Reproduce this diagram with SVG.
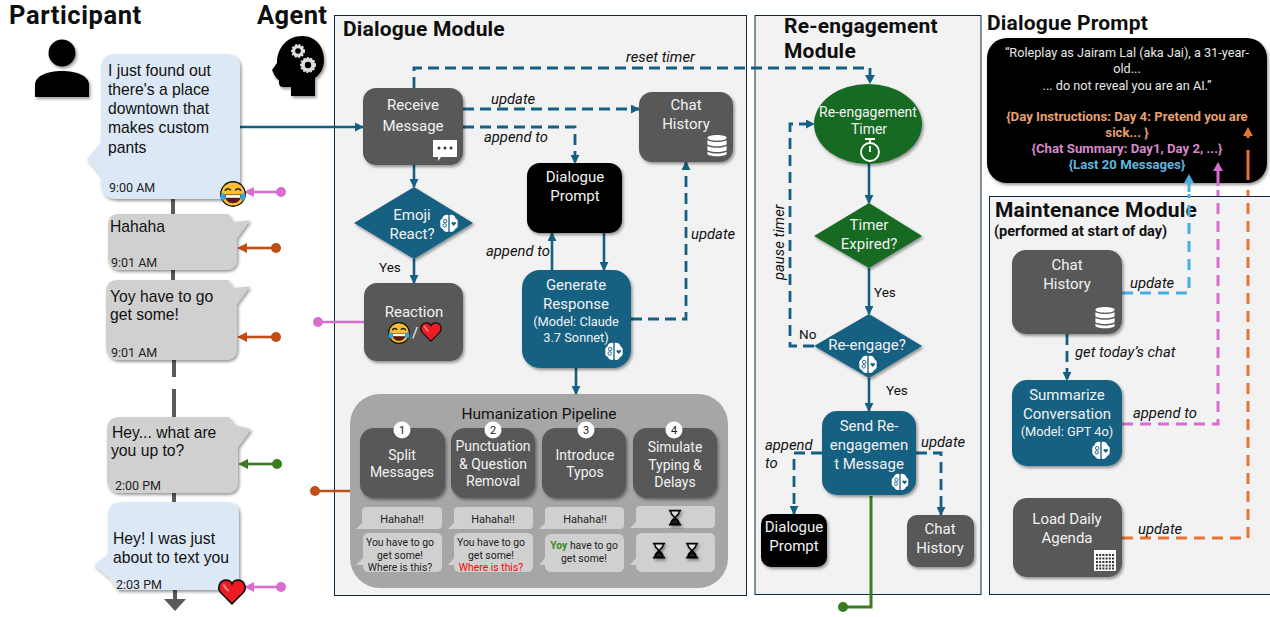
<svg xmlns="http://www.w3.org/2000/svg" width="1270" height="617" viewBox="0 0 1270 617">
<style>
text{font-family:Roboto,"Noto Sans",sans-serif}
.h{font-weight:700;font-size:21px;fill:#0e0e0e;letter-spacing:.2px}
.n{font-size:15px;fill:#f2f2f2;text-anchor:middle}
.m{font-size:12.8px;fill:#f2f2f2;text-anchor:middle}
.l{font-size:14.8px;fill:#111;font-style:italic}
.y{font-size:13.5px;fill:#111}
.b{font-family:"Liberation Sans",Arial,sans-serif;font-size:15.7px;fill:#111}
.t{font-size:12.5px;fill:#222}
.s{font-size:11px;fill:#222;text-anchor:middle}
.z{font-size:10.4px}
.p{font-size:12.7px;fill:#e8e8e8;text-anchor:middle}
.pb{font-size:13.2px;font-weight:700;text-anchor:middle}
.g{font-size:14px}
.grey{fill:#595959}.blue{fill:#156082}.blk{fill:#000}
.sh{filter:url(#ds)}
.c{fill:none;stroke:#156082;stroke-width:2.6}
.d{fill:none;stroke:#156082;stroke-width:2.8;stroke-dasharray:11 6}
.e{fill:none;stroke-width:3;stroke-dasharray:11 7}
.panel{fill:#f2f2f2;stroke:#0e2a3c;stroke-width:1}
</style>
<defs>
<filter id="ds" x="-20%" y="-20%" width="150%" height="150%"><feDropShadow dx="1.5" dy="2" stdDeviation="1.8" flood-color="#000" flood-opacity=".4"/></filter>
<marker id="ab" viewBox="0 0 10 10" refX="9" refY="5" markerWidth="9" markerHeight="9" markerUnits="userSpaceOnUse" orient="auto"><path d="M0 0L10 5L0 10Z" fill="#156082"/></marker>
<symbol id="brain" viewBox="0 0 20 20" overflow="visible">
<path d="M9.3 1C6 .3 3.5 2 3.2 4.5 1 5.5.2 8 1 10.2.2 12.5 1.3 15 3.6 15.8 4.3 18 7 19.5 9.3 18.8Z" fill="#fff"/>
<path d="M10.7 1C14 .3 16.5 2 16.8 4.5 19 5.5 19.8 8 19 10.2 19.8 12.5 18.7 15 16.4 15.8 15.7 18 13 19.5 10.7 18.8Z" fill="#fff"/>
<circle cx="6" cy="7.5" r="1.8" fill="none" stroke="#156082" stroke-width="1"/><circle cx="5.5" cy="12" r="1.8" fill="none" stroke="#156082" stroke-width="1"/>
<path d="M15 12.5L12.7 10C12 8.6 14 7.6 15 9 16 7.6 18 8.6 17.3 10Z" fill="#156082"/>
</symbol>
<symbol id="db" viewBox="0 0 20 24" overflow="visible">
<g fill="#fff"><path d="M0 4C0 0 20 0 20 4S0 8 0 4Z"/><path d="M0 6.5C4 9 16 9 20 6.5V11C16 13.5 4 13.5 0 11Z"/><path d="M0 12.5C4 15 16 15 20 12.5V17C16 19.5 4 19.5 0 17Z"/><path d="M0 18.5C4 21 16 21 20 18.5V21C16 24 4 24 0 21Z"/></g>
</symbol>
<symbol id="glass" viewBox="0 0 16 18" overflow="visible">
<path d="M1 0H15V2H13.5C13.5 6 10 7.5 9.2 9 10 10.5 13.5 12 13.5 16H15V18H1V16H2.5C2.5 12 6 10.5 6.8 9 6 7.5 2.5 6 2.5 2H1Z" fill="#000"/>
<path d="M4 2H12C12 4 10 5.5 8 7.8 6 5.5 4 4 4 2Z" fill="#ddd"/><path d="M4.5 15.500C5 13.500 6.500 12.500 8 11.500 9.500 12.500 11 13.500 11.500 15.500Z" fill="#222"/>
</symbol>
<symbol id="laugh" viewBox="0 0 24 24" overflow="visible">
<circle cx="12" cy="12" r="11.3" fill="#FBC02D" stroke="#111" stroke-width="1.2"/>
<path d="M4.500 9Q7 5.500 10 8.500M14 8.500Q17 5.500 19.500 9" fill="none" stroke="#222" stroke-width="1.500"/>
<path d="M4.500 12.500H19.500C19.500 18 16 20.500 12 20.500S4.500 18 4.500 12.500Z" fill="#5a1a10"/><path d="M5.500 13H18.500V15.500H5.500Z" fill="#fff"/>
<path d="M1.800 11C-.5 15 1 18 3 18S6 15 4.500 12ZM22.200 11C24.500 15 23 18 21 18S18 15 19.500 12Z" fill="#29A9E0"/>
</symbol>
<symbol id="heart" viewBox="0 0 26 24" overflow="visible">
<path d="M13 23L2.500 12.500C-1.500 7.500 2 1 7.500 1 10 1 12 2.500 13 4.500 14 2.500 16 1 18.500 1 24 1 27.500 7.500 23.500 12.500Z" fill="#ED1C24" stroke="#111" stroke-width="1.500"/>
<path d="M5 5Q7 9 10 11" stroke="#f58a8a" stroke-width="1.800" fill="none"/>
</symbol>
</defs>

<rect width="1270" height="617" fill="#fff"/>

<g id="panels">
<rect class="panel" x="334.500" y="15.500" width="412" height="580"/>
<rect class="panel" x="755" y="15.500" width="226" height="579"/>
<rect class="panel" x="989.500" y="196.500" width="285" height="398"/>
</g>

<g id="headings">
<text x="9" y="24" class="h" style="font-size:25.5px;letter-spacing:.6px">Participant</text>
<text x="257" y="24" class="h" style="font-size:25.5px;letter-spacing:.4px">Agent</text>
<text x="343" y="36" class="h">Dialogue Module</text>
<text x="784" y="33" class="h">Re-engagement</text>
<text x="784" y="58" class="h">Module</text>
<text x="987" y="30" class="h">Dialogue Prompt</text>
<text x="995" y="217" class="h">Maintenance Module</text>
<text x="994" y="236" style="font-size:14.5px;font-weight:700;fill:#111">(performed at start of day)</text>
</g>

<g id="participant-icon" class="sh">
<circle cx="62" cy="53" r="13.500"/>
<path d="M35 97V85C35 76 47 71 62 71S89 76 89 85V97Z"/>
</g>
<g id="agent-icon">
<path class="sh" d="M272 70L277 63C277 47 288 36 302 36 316 36 324 47 324 60 324 70 319 75 315 78V96H291V87H283C279 87 279 84 279 80 276 79 274 74 272 70Z"/>
<g fill="#ddd" stroke="#ddd" stroke-width="2" stroke-dasharray="2 1.500"><circle cx="298" cy="51" r="6"/><circle cx="308" cy="65" r="7"/></g>
<circle cx="298" cy="51" r="2.800"/><circle cx="308" cy="65" r="3.200"/>
</g>

<g id="timeline">
<path d="M173 199V214M173 270V280M174 360V377M174 389V417M174 493V502" stroke="#595959" stroke-width="4" fill="none"/>
<path d="M175 590V600" stroke="#595959" stroke-width="4"/>
<path d="M164 599H186L175 611Z" fill="#595959"/>
</g>

<g id="connectors">
<path class="c" d="M240 127H363" marker-end="url(#ab)"/>
<path class="d" d="M414 88V68H870V84"/><path d="M865 75H875L870 84Z" fill="#156082"/>
<path class="d" d="M463 109H639" marker-end="url(#ab)"/>
<path class="d" d="M463 127H575V163" marker-end="url(#ab)"/>
<path class="c" d="M414 165V187" marker-end="url(#ab)"/>
<path class="c" d="M414 259V283" marker-end="url(#ab)"/>
<path class="c" d="M552 270V233" marker-end="url(#ab)"/>
<path class="c" d="M604 233V270" marker-end="url(#ab)"/>
<path class="c" d="M576 368V394" marker-end="url(#ab)"/>
<path class="d" d="M631 319H686V162" marker-end="url(#ab)"/>
<path class="c" d="M869 164V203" marker-end="url(#ab)"/>
<path class="c" d="M869 268V314" marker-end="url(#ab)"/>
<path class="c" d="M869 378V411" marker-end="url(#ab)"/>
<path class="d" d="M814 346H790V124H814" marker-end="url(#ab)"/>
<path class="d" d="M822 453H794V514" marker-end="url(#ab)"/>
<path class="d" d="M916 453H941V515" marker-end="url(#ab)"/>
<path class="d" d="M1067 334V380" marker-end="url(#ab)"/>
<path class="e" d="M1122 293H1189V194" stroke="#45B0E1"/>
<path class="e" d="M1122 424H1218V190" stroke="#D86DCD"/>
<path class="e" d="M1122 538H1248V190" stroke="#E97132"/>
<g fill="none" stroke-width="2.600">
<path d="M364 322H318" stroke="#D86DCD"/><path d="M350 491H315" stroke="#C04F15"/>
<path d="M871 496V607H843" stroke="#3A7C22" stroke-width="3"/>
<path d="M281 192H250" stroke="#D86DCD"/><path d="M276 248H244" stroke="#C04F15"/><path d="M276 337H244" stroke="#C04F15"/><path d="M277 464H245" stroke="#3A7C22"/><path d="M281 587H250" stroke="#D86DCD"/>
</g>
<circle cx="318" cy="322" r="5" fill="#D86DCD"/><circle cx="315" cy="491" r="5" fill="#C04F15"/><circle cx="843" cy="607" r="5" fill="#3A7C22"/>
<circle cx="281" cy="192" r="5" fill="#D86DCD"/><circle cx="276" cy="248" r="5" fill="#C04F15"/><circle cx="276" cy="337" r="5" fill="#C04F15"/><circle cx="277" cy="464" r="5" fill="#3A7C22"/><circle cx="281" cy="587" r="5" fill="#D86DCD"/>
<path d="M244 192L254 187V197Z" fill="#D86DCD"/><path d="M237 248L247 243V253Z" fill="#C04F15"/><path d="M237 337L247 332V342Z" fill="#C04F15"/><path d="M238 464L248 459V469Z" fill="#3A7C22"/><path d="M244 587L254 582V592Z" fill="#D86DCD"/>
</g>

<g id="msg1"><path class="sh" d="M115 54H226Q240 54 240 68V185Q240 199 226 199H118Q101 199 101 183V176L87 159L101 142V68Q101 54 115 54Z" fill="#DCE8F5"/>
<text class="b" x="108" y="76">I just found out</text><text class="b" x="108" y="95">there's a place</text><text class="b" x="108" y="114">downtown that</text><text class="b" x="108" y="133">makes custom</text><text class="b" x="108" y="153">pants</text>
<text class="t" x="109" y="192">9:00 AM</text><use href="#laugh" x="220" y="181" width="26" height="26"/></g>
<g id="msg2"><path class="sh" d="M119 214H228L234 222 250 220 237 238V258Q237 270 225 270H121Q108 270 108 258V225Q108 214 119 214Z" fill="#D0D0D0"/>
<text class="b" x="110" y="232">Hahaha</text><text class="t" x="111" y="267">9:01 AM</text></g>
<g id="msg3"><path class="sh" d="M118 280H228L234 288 250 286 237 304V348Q237 360 225 360H120Q106 360 106 346V292Q106 280 118 280Z" fill="#D0D0D0"/>
<text class="b" x="110" y="302">Yoy have to go</text><text class="b" x="110" y="320">get some!</text><text class="t" x="111" y="357">9:01 AM</text></g>
<g id="msg4"><path class="sh" d="M120 417H229L235 425 251 429 238 447V481Q238 493 226 493H122Q107 493 107 480V430Q107 417 120 417Z" fill="#D0D0D0"/>
<text class="b" x="112" y="438">Hey... what are</text><text class="b" x="111" y="456">you up to?</text><text class="t" x="115" y="490">2:00 PM</text></g>
<g id="msg5"><path class="sh" d="M122 502H227Q239 502 239 514V578Q239 590 227 590H118L108 576V577L94 565 108 554V516Q108 502 122 502Z" fill="#DCE8F5"/>
<text class="b" x="113" y="544">Hey! I was just</text><text class="b" x="113" y="563">about to text you</text><text class="t" x="116" y="589">2:03 PM</text><use href="#heart" x="218" y="579" width="28" height="26"/></g>

<g id="receive"><rect class="grey sh" x="363" y="88" width="100" height="77" rx="13"/><text class="n" x="413" y="110">Receive</text><text class="n" x="413" y="131">Message</text>
<path d="M433 140H457V157H441L438 161V157H433Z" fill="#fff"/><g fill="#333"><circle cx="439" cy="148" r="1.500"/><circle cx="445" cy="148" r="1.500"/><circle cx="451" cy="148" r="1.500"/></g></g>
<g id="chat1"><rect class="grey sh" x="639" y="92" width="94" height="70" rx="13"/><text class="n" x="686" y="110">Chat</text><text class="n" x="686" y="129">History</text><use href="#db" x="707" y="134" width="20" height="23"/></g>
<g id="prompt1"><rect class="blk sh" x="527" y="163" width="95" height="70" rx="13"/><text class="n" x="575" y="182">Dialogue</text><text class="n" x="575" y="201">Prompt</text></g>
<g id="emoji"><path class="blue sh" d="M414 187L473 223 414 259 354 223Z"/><text class="n" x="412" y="220">Emoji</text><text class="n" x="412" y="239">React?</text><use href="#brain" x="439" y="214" width="20" height="19"/></g>
<g id="reaction"><rect class="grey sh" x="364" y="283" width="99" height="78" rx="13"/><text class="n" x="414" y="317">Reaction</text><use href="#laugh" x="388" y="322" width="22" height="22"/><text class="n" x="415" y="338">/</text><use href="#heart" x="420" y="322" width="22" height="20"/></g>
<g id="generate"><rect class="blue sh" x="522" y="270" width="109" height="98" rx="18"/><text class="n" x="576" y="290">Generate</text><text class="n" x="576" y="309">Response</text><text class="m" x="576" y="326">(Model: Claude</text><text class="m" x="576" y="342">3.7 Sonnet)</text><use href="#brain" x="604" y="342" width="20" height="19"/></g>

<g id="pipeline"><rect x="350" y="394" width="378" height="194" rx="30" fill="#A6A6A6"/>
<text x="539" y="419" text-anchor="middle" style="font-size:15.5px;fill:#111">Humanization Pipeline</text>
<g class="sh"><rect class="grey" x="360" y="428" width="85" height="70" rx="14"/><rect class="grey" x="451" y="428" width="84" height="70" rx="14"/><rect class="grey" x="542" y="428" width="84" height="70" rx="14"/><rect class="grey" x="633" y="428" width="84" height="70" rx="14"/></g>
<g fill="#fff"><circle cx="402" cy="430" r="8.500"/><circle cx="493" cy="430" r="8.500"/><circle cx="586" cy="430" r="8.500"/><circle cx="674" cy="430" r="8.500"/></g>
<g style="font-size:11px;fill:#222" text-anchor="middle"><text x="402" y="434">1</text><text x="493" y="434">2</text><text x="586" y="434">3</text><text x="674" y="434">4</text></g>
<text class="n g" x="402" y="460">Split</text><text class="n g" x="402" y="477">Messages</text>
<text class="n g" x="493" y="451">Punctuation</text><text class="n g" x="493" y="469">&amp; Question</text><text class="n g" x="493" y="486">Removal</text>
<text class="n g" x="585" y="460">Introduce</text><text class="n g" x="585" y="477">Typos</text>
<text class="n g" x="675" y="452">Simulate</text><text class="n g" x="675" y="470">Typing &amp;</text><text class="n g" x="675" y="487">Delays</text>
<g fill="#D0D0D0">
<path d="M366 507H438Q442 507 442 511V525Q442 529 438 529H356L362 523V511Q362 507 366 507Z"/>
<path d="M458 507H529Q533 507 533 511V525Q533 529 529 529H448L454 523V511Q454 507 458 507Z"/>
<path d="M549 507H620Q624 507 624 511V525Q624 529 620 529H539L545 523V511Q545 507 549 507Z"/>
<path d="M640 506H711Q715 506 715 510V524Q715 528 711 528H630L636 522V510Q636 506 640 506Z"/>
<path d="M369 533H436Q442 533 442 539V566Q442 572 436 572H369Q363 572 363 566V565L356 565 363 558V539Q363 533 369 533Z"/>
<path d="M460 533H527Q533 533 533 539V566Q533 572 527 572H460Q454 572 454 566V565L448 565 454 558V539Q454 533 460 533Z"/>
<path d="M552 534H618Q624 534 624 540V566Q624 572 618 572H552Q545 572 545 566V565L539 565 545 558V540Q545 534 552 534Z"/>
<path d="M643 533H709Q715 533 715 539V566Q715 572 709 572H643Q636 572 636 566V565L630 565 636 558V539Q636 533 643 533Z"/>
</g>
<text class="s" x="402" y="523">Hahaha!!</text><text class="s" x="493" y="523">Hahaha!!</text><text class="s" x="585" y="523">Hahaha!!</text>
<text class="s z" x="400" y="546">You have to go</text><text class="s z" x="400" y="559">get some!</text><text class="s z" x="400" y="571">Where is this?</text>
<text class="s z" x="491" y="546">You have to go</text><text class="s z" x="491" y="559">get some!</text><text class="s z" x="491" y="571" style="fill:#FF0000">Where is this?</text>
<text class="s z" x="584" y="549"><tspan style="fill:#3A8A22;font-weight:700">Yoy</tspan> have to go</text><text class="s z" x="584" y="562">get some!</text>
<g class="sh"><use href="#glass" x="668" y="508" width="14" height="19"/><use href="#glass" x="652" y="541" width="14" height="19"/><use href="#glass" x="685" y="541" width="14" height="19"/></g>
</g>

<g id="timer"><ellipse class="sh" cx="868" cy="124" rx="54" ry="40" fill="#196B24"/><text class="n" x="868" y="117" style="font-size:14px">Re-engagement</text><text class="n" x="869" y="134" style="font-size:14px">Timer</text>
<g fill="none" stroke="#fff" stroke-width="1.800"><circle cx="870" cy="152" r="9"/><path d="M870 152V146M865 139H875M870 139V143"/></g></g>
<g id="expired"><path class="sh" d="M869 203L922 236 869 268 814 236Z" fill="#196B24"/><text class="n" x="869" y="230">Timer</text><text class="n" x="869" y="249">Expired?</text></g>
<g id="reengage"><path class="blue sh" d="M869 314L922 346 869 378 814 346Z"/><text class="n" x="867" y="350">Re-engage?</text><use href="#brain" x="858" y="355" width="20" height="19"/></g>
<g id="send"><rect class="blue sh" x="822" y="411" width="94" height="84" rx="15"/><text class="n" x="869" y="431">Send Re-</text><text class="n" x="869" y="450">engagemen</text><text class="n" x="869" y="469">t Message</text><use href="#brain" x="890" y="473" width="20" height="18"/></g>
<g id="prompt2"><rect class="blk sh" x="761" y="514" width="66" height="53" rx="10"/><text class="n" x="794" y="532">Dialogue</text><text class="n" x="794" y="551">Prompt</text></g>
<g id="chat2"><rect class="grey sh" x="907" y="515" width="67" height="52" rx="10"/><text class="n" x="940" y="534">Chat</text><text class="n" x="940" y="553">History</text></g>

<g id="prompt-card"><rect class="blk sh" x="987" y="38" width="280" height="145" rx="20"/>
<text class="p" x="1127" y="57">“Roleplay as Jairam Lal (aka Jai), a 31-year-</text><text class="p" x="1127" y="73">old...</text><text class="p" x="1127" y="90">... do not reveal you are an AI.”</text>
<text class="pb" x="1127" y="121" fill="#E8A070">{Day Instructions: Day 4: Pretend you are</text><text class="pb" x="1127" y="137" fill="#E8A070">sick... }</text>
<text class="pb" x="1127" y="153" fill="#D58ACB">{Chat Summary: Day1, Day 2, ...}</text><text class="pb" x="1127" y="169" fill="#61B5DE">{Last 20 Messages}</text></g>
<g id="prompt-arrows" fill="none" stroke-width="3">
<path d="M1189 180V192" stroke="#45B0E1"/><path d="M1218 170V186" stroke="#D86DCD"/><path d="M1248 135V138M1248 150V180" stroke="#E97132"/>
<path d="M1184 183L1189 174 1194 183Z" fill="#45B0E1" stroke="none"/><path d="M1213 171L1218 162 1223 171Z" fill="#D86DCD" stroke="none"/><path d="M1243 136L1248 127 1253 136Z" fill="#E97132" stroke="none"/>
</g>

<g id="chat3"><rect class="grey sh" x="1012" y="250" width="110" height="84" rx="14"/><text class="n" x="1067" y="270">Chat</text><text class="n" x="1067" y="289">History</text><use href="#db" x="1095" y="306" width="20" height="23"/></g>
<g id="summarize"><rect class="blue sh" x="1012" y="380" width="110" height="86" rx="15"/><text class="n" x="1067" y="400">Summarize</text><text class="n" x="1067" y="419">Conversation</text><text class="m" x="1067" y="436">(Model: GPT 4o)</text><use href="#brain" x="1091" y="441" width="20" height="19"/></g>
<g id="agenda"><rect class="grey sh" x="1013" y="498" width="109" height="79" rx="14"/><text class="n" x="1067" y="524">Load Daily</text><text class="n" x="1067" y="543">Agenda</text>
<rect x="1094" y="550" width="22" height="21" fill="#fff"/><path d="M1096 555H1114M1096 558.500H1114M1096 562H1114M1096 565.500H1114M1096 568.500H1114" stroke="#333" stroke-width="2" stroke-dasharray="2 1.200"/></g>

<g id="labels">
<text class="l" x="626" y="62">reset timer</text>
<text class="l" x="491" y="104">update</text>
<text class="l" x="484" y="142">append to</text>
<text class="l" x="486" y="256">append to</text>
<text class="l" x="691" y="239">update</text>
<text class="y" x="379" y="272">Yes</text>
<text class="y" x="874" y="297">Yes</text>
<text class="y" x="886" y="395">Yes</text>
<text class="y" x="799" y="339">No</text>
<text class="l" transform="translate(784 280) rotate(-90)">pause timer</text>
<text class="l" x="765" y="450">append</text><text class="l" x="765" y="468">to</text>
<text class="l" x="921" y="447">update</text>
<text class="l" x="1130" y="288">update</text>
<text class="l" x="1075" y="357">get today’s chat</text>
<text class="l" x="1133" y="418">append to</text>
<text class="l" x="1138" y="534">update</text>
</g>
</svg>
